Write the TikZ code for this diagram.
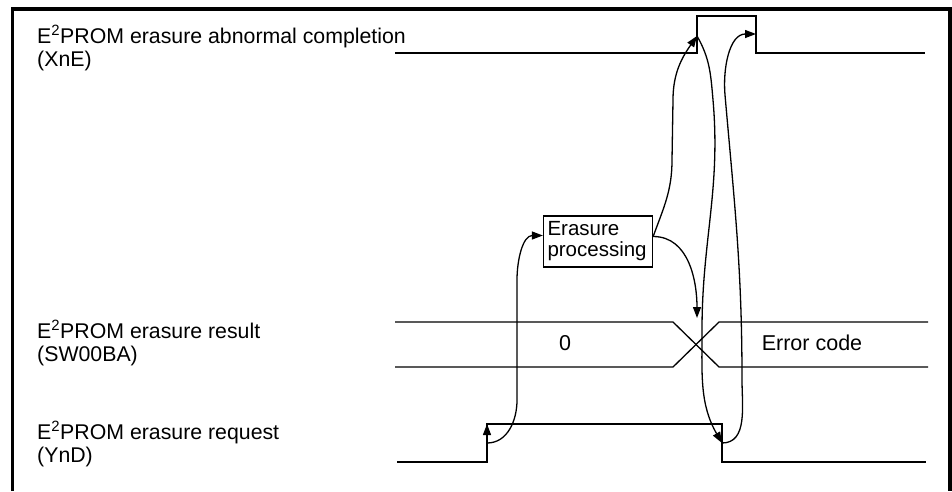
\documentclass[tikz,border=0pt]{standalone}
\usepackage{fontspec}
\setmainfont{Liberation Sans}
\usepackage{tikz}
\usetikzlibrary{arrows.meta}
\newcommand{\eprom}{E\textsuperscript{2}PROM}
\tikzset{
  sig/.style={line width=1.3pt, line join=miter},
  frm/.style={line width=3.8pt},
  lbl/.style={anchor=north west, inner sep=0pt, align=left,
              font=\fontsize{21.3}{23.5}\selectfont},
  val/.style={inner sep=0pt, font=\fontsize{21.5}{23.5}\selectfont},
  procbox/.style={draw, line width=1.3pt, align=left, text width=101pt,
                  inner xsep=4pt, minimum height=51pt,
                  font=\fontsize{20.5}{21}\selectfont},
  ar/.style={-{Triangle[length=11pt,width=8pt]}, line width=1.3pt}
}
\begin{document}
\begin{tikzpicture}[x=1pt,y=-1pt]
\useasboundingbox (0,0) rectangle (952,491);
\draw[frm] (12.5,491) -- (12.5,9) -- (950,9) -- (950,491);
\node[lbl] (lxne) at (37,25) {\eprom{} erasure abnormal completion\\(XnE)};
\node[lbl] (lsw) at (37,320) {\eprom{} erasure result\\(SW00BA)};
\node[lbl] (lynd) at (37,421) {\eprom{} erasure request\\(YnD)};
\coordinate (xnRise) at (697,16);
\coordinate (xnFall) at (756,16);
\coordinate (xnRiseMid) at (697,36);
\coordinate (xnFallMid) at (756,34);
\coordinate (ynRise) at (487,424);
\coordinate (ynFall) at (722,424);
\coordinate (ynRiseMid) at (487,443);
\coordinate (ynFallMid) at (722,443);
\coordinate (crossTop) at (697,318);
\draw[sig] (395,53) -| (xnRise) -| (xnFall) |- (925,53);
\draw[sig] (397,462) -| (ynRise) -| (ynFall) |- (926,462);
\draw[sig] (395,322) -- (673,322) -- (719,367) -- (928,367);
\draw[sig] (395,367) -- (673,367) -- (719,322) -- (928,322);
\node[val] (v0) at (565,343) {0};
\node[val] (verr) at (812,343) {Error code};
\node[procbox] (proc) at (598,241.5) {Erasure\\processing};
\draw[ar] (487,446) -- (ynRise);
\draw[ar] (ynRiseMid) to[out=0,in=-90] (517,400) -- (517,280) to[out=90,in=180] ([yshift=6pt]proc.west);
\draw[ar] ([yshift=5pt]proc.east) to[out=70,in=-90] (672,160) -- (673,100) to[out=90,in=-125] (xnRiseMid);
\draw[ar] ([yshift=5pt]proc.east) to[out=0,in=90] (crossTop);
\draw[ar] (xnRiseMid) to[out=-60,in=95] (713,100) to[out=-85,in=90] (702,330) to[out=-90,in=120] (ynFallMid);
\draw[ar] (ynFallMid) to[out=0,in=-90] (742,380) to[out=90,in=-85] (725,95) to[out=95,in=180] (xnFallMid);
\end{tikzpicture}
\end{document}
